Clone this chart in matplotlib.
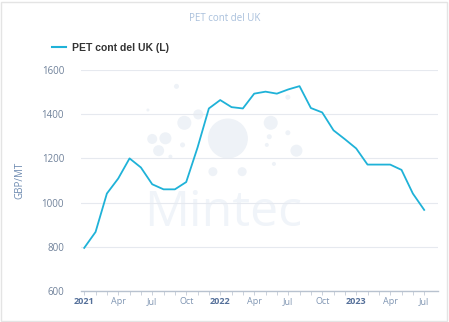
import numpy as np
import matplotlib
matplotlib.use("Agg")
import matplotlib.pyplot as plt
from matplotlib.patches import Rectangle

# monthly prices, Jan 2021 .. Jul 2023 (GBP/MT)
months = np.arange(31)
prices = [795, 867, 1041, 1109, 1200, 1159, 1083, 1060, 1060, 1093, 1249, 1426,
          1464, 1432, 1426, 1493, 1502, 1493, 1512, 1527, 1428, 1408, 1327, 1287,
          1245, 1172, 1172, 1172, 1148, 1041, 967]
tick_pos = [0, 3, 6, 9, 12, 15, 18, 21, 24, 27, 30]
tick_labels = ["2021", "Apr", "Jul", "Oct", "2022", "Apr", "Jul", "Oct", "2023", "Apr", "Jul"]
yticks = [600, 800, 1000, 1200, 1400, 1600]

# watermark bubbles: axes-fraction centre and radius in pixels
bubble_x = [0.412, 0.290, 0.329, 0.268, 0.200, 0.237, 0.218, 0.251, 0.285,
            0.370, 0.452, 0.532, 0.528, 0.521, 0.580, 0.604, 0.541, 0.580, 0.188]
bubble_y = [0.690, 0.761, 0.799, 0.926, 0.688, 0.691, 0.635, 0.608, 0.661,
            0.540, 0.540, 0.761, 0.698, 0.661, 0.716, 0.635, 0.575, 0.877, 0.819]
bubble_r = [20, 7, 5, 2.5, 5, 6, 5.5, 2, 2.5, 4.5, 4.5, 7, 2.5, 2, 2.5, 6, 2, 2.5, 1.5]

line_color = "#1fb2d8"
grid_color = "#e6e9ef"
label_color = "#6f819a"
mark_color = "#eef2f7"

plt.rcParams["font.family"] = ["Open Sans", "DejaVu Sans"]

fig = plt.figure(figsize=(4.49, 3.22), dpi=100)
fig.patch.set_facecolor("white")
fig.add_artist(Rectangle((0.002, 0.002), 0.993, 0.993, transform=fig.transFigure,
                         fill=False, edgecolor="#e4e4e4", linewidth=1.0))

ax = fig.add_axes([0.18, 0.0963, 0.795, 0.6863])

# faint watermark
ax.text(0.40, 0.35, "Mintec", transform=ax.transAxes, ha="center", va="center",
        fontsize=36, color="#f0f4f9", zorder=0)
sizes = [(2 * r * 0.72) ** 2 for r in bubble_r]
ax.scatter(bubble_x, bubble_y, s=sizes, transform=ax.transAxes, color=mark_color,
           linewidths=0, zorder=0)

ax.plot(months, prices, color=line_color, linewidth=1.3, zorder=3)

ax.set_xlim(-0.3, 31.2)
ax.set_ylim(600, 1600)
ax.set_yticks(yticks)
ax.set_yticklabels([str(v) for v in yticks])
ax.yaxis.grid(True, color=grid_color, linewidth=0.8)
ax.set_axisbelow(True)

ax.set_xticks(tick_pos)
ax.set_xticks(months, minor=True)
ax.set_xticklabels(tick_labels)
for lbl in ax.get_xticklabels():
    if lbl.get_text().isdigit():
        lbl.set_fontweight("bold")
        lbl.set_color("#55709a")
    else:
        lbl.set_color("#8096b3")
    lbl.set_fontsize(6.5)

ax.tick_params(axis="x", which="both", length=3, width=0.6, color="#c2cad6", pad=1.5)
ax.tick_params(axis="y", length=0, labelsize=7, labelcolor=label_color, pad=12)

for side in ["top", "right", "left"]:
    ax.spines[side].set_visible(False)
ax.spines["bottom"].set_color("#b8c2cf")
ax.spines["bottom"].set_linewidth(1.0)

ax.set_ylabel("GBP/MT", fontsize=7, color="#6d8ab0", labelpad=12)

fig.text(0.5, 0.942, "PET cont del UK", ha="center", va="center",
         fontsize=7, color="#a9c0dc")

# legend entry
ax.plot([], [], color=line_color, linewidth=1.5, label="PET cont del UK (L)")
leg = fig.legend(loc="center left", bbox_to_anchor=(0.095, 0.851), frameon=False,
                 handlelength=1.3, handletextpad=0.6,
                 prop={"family": "Liberation Sans", "weight": "bold", "size": 7.5})
for t in leg.get_texts():
    t.set_color("#333333")

fig.savefig("out.png", dpi=100, facecolor="white")
